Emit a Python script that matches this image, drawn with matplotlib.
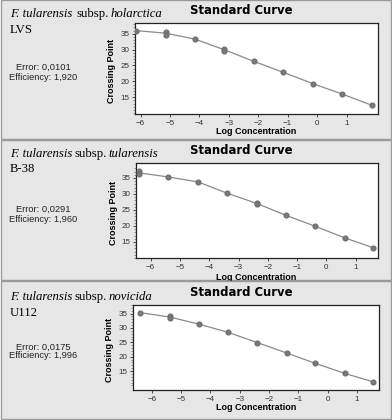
import numpy as np
import matplotlib
matplotlib.use("Agg")
import matplotlib.pyplot as plt
from matplotlib.patches import Rectangle

# ---- data ----
species = ["holarctica", "tularensis", "novicida"]
strains = ["LVS", "B-38", "U112"]
errors = ["0,0101", "0,0291", "0,0175"]
efficiencies = ["1,920", "1,960", "1,996"]

x1 = [-6.15, -5.15, -5.15, -4.15, -3.15, -3.15, -2.15, -1.15, -0.15, 0.85, 1.85]
y1 = [36.0, 35.7, 34.7, 33.3, 30.3, 29.6, 26.3, 22.85, 19.3, 16.0, 12.5]
x2 = [-6.4, -6.4, -5.4, -4.38, -3.38, -2.38, -2.38, -1.38, -0.38, 0.62, 1.6]
y2 = [37.1, 36.1, 35.3, 33.75, 30.2, 27.3, 26.8, 23.3, 19.9, 16.3, 13.2]
x3 = [-6.4, -5.38, -5.38, -4.38, -3.4, -2.4, -1.4, -0.43, 0.58, 1.56]
y3 = [35.35, 34.0, 33.6, 31.3, 28.5, 24.9, 21.3, 17.7, 14.2, 11.2]

xticks = [-6, -5, -4, -3, -2, -1, 0, 1]
yticks = [15, 20, 25, 30, 35]

W, H = 392, 420
fig = plt.figure(figsize=(W / 100, H / 100), dpi=100)
fig.patch.set_facecolor("white")
renderer = fig.canvas.get_renderer()

def fx(px):
    return px / W

def fy(py):
    return 1 - py / H

panels = [(0, 139), (140, 280), (281, 419)]
panel_z = [-3, -3, -1]
for (t, b), z in zip(panels, panel_z):
    fig.patches.append(Rectangle((fx(0.5), fy(b)), fx(390), (b - t) / H,
                                 transform=fig.transFigure, facecolor="#e6e6e6",
                                 edgecolor="#9a9a9a", lw=1.0, zorder=z))

axes_px = [(135, 23, 378, 114), (136, 163, 378, 258), (133, 305, 379, 390)]
xlims = [(-6.19, 2.07), (-6.5, 1.76), (-6.64, 1.75)]
ylims = [(9.7, 38.4), (10.34, 39.66), (8.4, 37.9)]
species_y = [17, 157, 300]
strain_y = [33, 172, 316]
title_y = [11, 151, 293]
err_y = [67, 209, 347]
eff_y = [77, 220, 356]
xlabel_y = [132, 277, 408]
xlabel_z = [0, -2, 0]
ylabel_x = [112, 113, 110]
datasets = [(x1, y1), (x2, y2), (x3, y3)]

serif = "Liberation Serif"
sans = "Liberation Sans"
FS = 9.2

for i in range(3):
    l, t, r, b = axes_px[i]
    ax = fig.add_axes([fx(l), fy(b), (r - l) / W, (b - t) / H])
    ax.set_facecolor("white")
    xs, ys = datasets[i]
    xs = np.array(xs); ys = np.array(ys)
    ux = np.unique(xs)
    my = np.array([ys[xs == u].mean() for u in ux])
    ax.plot(ux, my, color="#8a8a8a", lw=0.9, zorder=2)
    ax.plot(xs, ys, linestyle="none", marker="o", markersize=3.4,
            color="#7a7a7a", markeredgecolor="#707070", zorder=3)
    ax.set_xlim(*xlims[i])
    ax.set_ylim(*ylims[i])
    ax.set_xticks(xticks)
    ax.set_yticks(yticks)
    ax.set_yticks(np.arange(10, 39, 1), minor=True)
    ax.tick_params(axis="both", which="major", labelsize=5.8, length=2.5,
                   width=0.6, pad=1.5, colors="#333333")
    ax.tick_params(axis="y", which="minor", length=1.5, width=0.4, colors="#555555")
    for lab in ax.get_xticklabels() + ax.get_yticklabels():
        lab.set_family(sans)
    for sp in ax.spines.values():
        sp.set_linewidth(0.9)
        sp.set_color("#222222")

    # texts
    tx = fig.text(fx(10), fy(species_y[i]), "F. tularensis", family=serif,
                  style="italic", fontsize=FS, va="baseline", ha="left")
    bb = tx.get_window_extent(renderer)
    gap = 4 if i == 0 else 2
    t2 = fig.text((bb.x1 + gap) / W, fy(species_y[i]), "subsp.", family=serif,
                  fontsize=FS, va="baseline", ha="left")
    bb2 = t2.get_window_extent(renderer)
    fig.text((bb2.x1 + 2) / W, fy(species_y[i]), species[i], family=serif,
             style="italic", fontsize=FS, va="baseline", ha="left")
    fig.text(fx(10), fy(strain_y[i]), strains[i], family=serif, fontsize=FS,
             va="baseline", ha="left")
    fig.text(fx(241), fy(title_y[i]), "Standard Curve", family="DejaVu Sans",
             weight="heavy", fontsize=8.4, ha="center", va="center")
    fig.text(fx(43), fy(err_y[i]), "Error: " + errors[i], family=sans,
             fontsize=6.7, ha="center", va="center", color="#222222")
    fig.text(fx(43), fy(eff_y[i]), "Efficiency: " + efficiencies[i], family=sans,
             fontsize=6.7, ha="center", va="center", color="#222222")
    fig.text(fx(256), fy(xlabel_y[i]), "Log Concentration", family=sans,
             weight="bold", fontsize=6.5, ha="center", va="center", zorder=xlabel_z[i])
    fig.text(fx(ylabel_x[i]), fy((t + b) / 2 + 2), "Crossing Point", family=sans,
             weight="bold", fontsize=6.5, ha="center", va="center", rotation=90)

fig.savefig("out.png", dpi=100)
